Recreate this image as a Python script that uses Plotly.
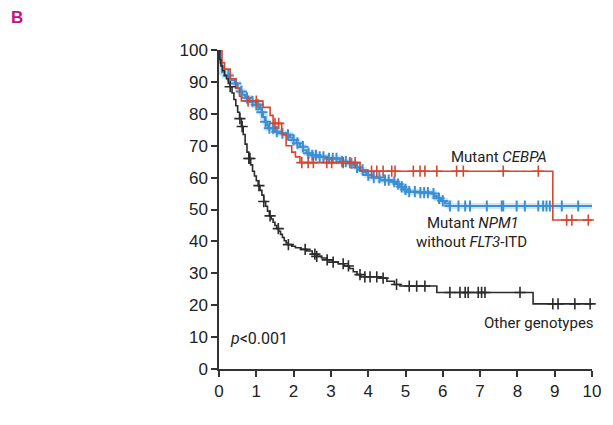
import numpy as np
import plotly.graph_objects as go

# ---- data ----
other_t = [0, 0.02, 0.05, 0.1, 0.15, 0.2, 0.25, 0.3, 0.35, 0.4, 0.45, 0.5, 0.55, 0.6, 0.65, 0.7,
           0.75, 0.8, 0.85, 0.9, 0.95, 1.0, 1.05, 1.1, 1.15, 1.2, 1.25, 1.3, 1.35, 1.4, 1.45, 1.5,
           1.55, 1.6, 1.65, 1.7, 1.75, 1.8, 1.85, 1.95, 2.05, 2.2, 2.35, 2.5, 2.62, 2.75, 2.9, 3.06,
           3.2, 3.35, 3.5, 3.6, 3.7, 3.8, 4.3, 4.5, 4.7, 4.85, 5.84, 8.42, 10.0]
other_s = [100, 97, 95, 93.5, 92, 91, 89.5, 88.5, 86.5, 84.5, 82.5, 80.5, 78.5, 76, 73.5, 70.5,
           68, 66, 64, 62, 60.5, 59, 57.5, 56, 54.5, 52.5, 51, 49.5, 48, 47, 46, 45,
           44, 43.2, 42.2, 41.2, 40.2, 39.5, 39, 38.5, 38, 37.5, 37, 36, 35.3, 34.8, 34.2, 33.5,
           33, 32.3, 31.5, 30.5, 29.6, 28.9, 28.5, 27.5, 26.5, 26, 24, 20.4, 20.4]
other_cens = [0.3, 0.56, 0.62, 0.8, 0.83, 1.07, 1.2, 1.37, 1.59, 1.86, 2.31, 2.57, 2.62, 2.9,
              3.06, 3.33, 3.47, 3.78, 3.91, 4.05, 4.23, 4.4, 4.76, 5.1, 5.3, 5.52, 6.19, 6.46,
              6.6, 6.68, 6.95, 7.04, 7.13, 8.07, 8.95, 9.09, 9.54, 9.95]

cebpa_t = [0, 0.08, 0.15, 0.3, 0.45, 0.55, 0.6, 1.18, 1.37, 1.45, 1.68, 1.8, 1.95, 2.05, 2.17,
           3.78, 8.95, 10.0]
cebpa_s = [100, 96, 94, 91, 88, 85.5, 84, 82, 79.5, 77, 73.5, 70, 68, 66.5, 64.7,
           62, 46.7, 46.7]
cebpa_cens = [0.78, 1.0, 1.5, 1.6, 2.22, 2.39, 2.53, 2.89, 3.02, 3.33, 3.51, 3.65, 4.09, 4.23,
              4.4, 4.63, 4.72, 5.21, 5.39, 5.52, 5.84, 6.37, 6.55, 7.62, 8.56, 9.32, 9.46, 9.9]

npm1_t = [0, 0.03, 0.08, 0.15, 0.3, 0.43, 0.5, 0.56, 0.63, 0.7, 0.83, 1.0, 1.1, 1.14, 1.18, 1.23,
          1.28, 1.32, 1.5, 1.64, 1.81, 1.9, 1.99, 2.08, 2.17, 2.26, 2.35, 2.5, 2.62, 2.89, 3.24,
          3.45, 3.6, 3.7, 3.78, 3.87, 3.96, 4.1, 4.32, 4.63, 4.75, 4.85, 4.95, 5.03, 5.39, 5.7,
          5.77, 5.84, 5.95, 6.06, 6.19, 10.0]
npm1_s = [100, 96, 93, 92, 90.5, 89.5, 88, 87, 86, 85, 83.8, 82.8, 81.5, 80.5, 79, 77.5,
          76.5, 75.5, 74.4, 73.9, 73.4, 72.6, 71.8, 70.8, 69.7, 68.6, 67.6, 67, 66.5, 66, 65,
          64.5, 63.9, 63.2, 62.4, 61.6, 60.8, 60, 59.2, 58.7, 58, 57.1, 56.3, 55.6, 55.3, 55,
          54.2, 53.5, 52.7, 51.9, 51.1, 51.1]
npm1_cens = [0.25, 0.45, 0.6, 0.75, 0.9, 1.0, 1.05, 1.15, 1.25, 1.35, 1.45, 1.55, 1.7, 1.85,
             2.0, 2.1, 2.25, 2.4, 2.5, 2.6, 2.7, 2.8, 2.95, 3.05, 3.15, 3.3, 3.4, 3.55, 3.7,
             3.85, 4.0, 4.15, 4.3, 4.45, 4.55, 4.7, 4.8, 4.9, 5.0, 5.1, 5.25, 5.4, 5.5, 5.6,
             5.75, 5.9, 6.0, 6.19, 6.42, 6.6, 6.73, 7.18, 7.58, 7.62, 7.98, 8.2, 8.56, 8.69,
             8.78, 8.87, 9.19, 9.63]

x_ticks = list(range(0, 11))
y_ticks = list(range(0, 101, 10))


def step_at(times, vals, t):
    idx = np.searchsorted(np.asarray(times), np.asarray(t), side="right") - 1
    return list(np.asarray(vals)[idx])


BLACK = "#2b2b2b"
RED = "#d7462e"
BLUE = "#3b8fd3"
TXT = "Roboto, Liberation Sans, Arial, sans-serif"
TICKF = "Liberation Sans, Arial, sans-serif"

fig = go.Figure()

# blue halo
fig.add_trace(go.Scatter(x=npm1_t, y=npm1_s, mode="lines", line_shape="hv",
                         line=dict(color="rgba(120,180,235,0.35)", width=6),
                         hoverinfo="skip", showlegend=False, cliponaxis=False))
fig.add_trace(go.Scatter(x=npm1_t, y=npm1_s, mode="lines", line_shape="hv",
                         line=dict(color=BLUE, width=2), showlegend=False, cliponaxis=False))
fig.add_trace(go.Scatter(x=npm1_cens, y=step_at(npm1_t, npm1_s, npm1_cens), mode="markers",
                         marker=dict(symbol="cross-thin", size=8,
                                     line=dict(color=BLUE, width=2)),
                         showlegend=False, cliponaxis=False))

fig.add_trace(go.Scatter(x=cebpa_t, y=cebpa_s, mode="lines", line_shape="hv",
                         line=dict(color=RED, width=1.6), showlegend=False, cliponaxis=False))
fig.add_trace(go.Scatter(x=cebpa_cens, y=step_at(cebpa_t, cebpa_s, cebpa_cens), mode="markers",
                         marker=dict(symbol="cross-thin", size=8,
                                     line=dict(color=RED, width=1.6)),
                         showlegend=False, cliponaxis=False))

fig.add_trace(go.Scatter(x=other_t, y=other_s, mode="lines", line_shape="hv",
                         line=dict(color=BLACK, width=1.6), showlegend=False, cliponaxis=False))
fig.add_trace(go.Scatter(x=other_cens, y=step_at(other_t, other_s, other_cens), mode="markers",
                         marker=dict(symbol="cross-thin", size=8,
                                     line=dict(color=BLACK, width=1.6)),
                         showlegend=False, cliponaxis=False))

annots = [
    dict(x=7.51, y=66.6, text="Mutant <i>CEBPA</i>", size=15),
    dict(x=6.81, y=45.8, text="Mutant <i>NPM1</i>", size=15),
    dict(x=6.78, y=39.8, text="without <i>FLT3</i>-ITD", size=15),
    dict(x=8.59, y=14.4, text="Other genotypes", size=15),
    dict(x=1.07, y=9.7, text="<i>p</i><0.001", size=16),
    dict(x=5.31, y=-13.8, text="Years", size=16),
]
for a in annots:
    fig.add_annotation(x=a["x"], y=a["y"], xref="x", yref="y", text=a["text"],
                       showarrow=False, xanchor="center", yanchor="middle",
                       font=dict(family=TXT, size=a["size"], color="#222"))

fig.add_annotation(x=-1.64, y=50.5, xref="x", yref="y", text="Overall Survival (%)",
                   textangle=-90, showarrow=False, xanchor="center", yanchor="middle",
                   font=dict(family=TXT, size=16, color="#222"))
fig.add_annotation(x=(17 - 219) / 373, y=(369 - 18) / 319, xref="paper", yref="paper",
                   text="<b>B</b>", showarrow=False, xanchor="center", yanchor="middle",
                   font=dict(family="Liberation Sans, Arial, sans-serif", size=17,
                             color="#c4127f"))

axis_common = dict(showgrid=False, zeroline=False, showline=True, linecolor="#333",
                   linewidth=1.5, ticks="outside", ticklen=6, tickwidth=1.5, tickcolor="#333",
                   tickfont=dict(family=TICKF, size=17, color="#222"))
fig.update_xaxes(range=[0, 10], tickvals=x_ticks, ticktext=[str(v) for v in x_ticks],
                 **axis_common)
fig.update_yaxes(range=[0, 100], tickvals=y_ticks, ticktext=[str(v) for v in y_ticks],
                 **axis_common)

# page body has an 8px margin: shrink the figure so the plot area lands where the reference has it
fig.update_layout(width=605, height=417, margin=dict(l=211, r=21, t=42, b=56),
                  paper_bgcolor="white", plot_bgcolor="white")
fig.write_html("out.html")
